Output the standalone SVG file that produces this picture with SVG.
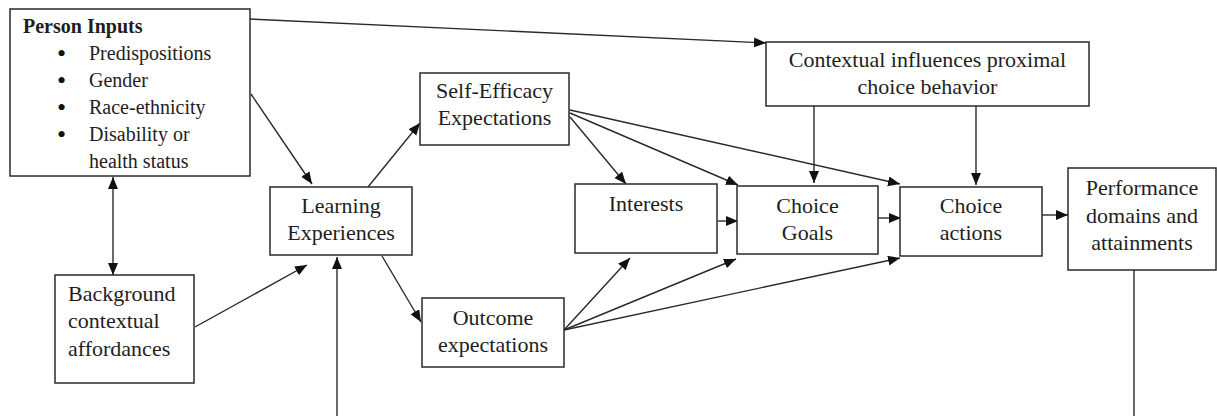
<svg xmlns="http://www.w3.org/2000/svg" width="1217" height="416" viewBox="0 0 1217 416">
<style>
  .box { fill: #ffffff; stroke: #2a2a2a; stroke-width: 1.5; }
  .t { font-family: "Liberation Serif", "Times New Roman", serif; font-size: 22px; fill: #1e1e1e; text-anchor: middle; }
  .ts { font-family: "Liberation Serif", "Times New Roman", serif; font-size: 22px; fill: #1e1e1e; }
  .tl { font-family: "Liberation Serif", "Times New Roman", serif; font-size: 20px; fill: #1e1e1e; }
  .bl { font-size: 26px; fill: #111; }
  .c { fill: none; stroke: #2a2a2a; stroke-width: 1.4; }
</style>
<defs>
  <marker id="ah" markerUnits="userSpaceOnUse" markerWidth="14" markerHeight="12" refX="12" refY="5" orient="auto">
    <path d="M0,0 L12,5 L0,10 Z" fill="#111"/>
  </marker>
  <marker id="as" markerUnits="userSpaceOnUse" markerWidth="14" markerHeight="12" refX="0" refY="5" orient="auto">
    <path d="M12,0 L0,5 L12,10 Z" fill="#111"/>
  </marker>
</defs>
<rect width="1217" height="416" fill="#ffffff"/>

<g id="connectors">
  <line class="c" x1="250" y1="19" x2="766" y2="43" marker-end="url(#ah)"/>
  <line class="c" x1="251" y1="94" x2="312" y2="184" marker-end="url(#ah)"/>
  <line class="c" x1="113" y1="177" x2="113" y2="275" marker-start="url(#as)" marker-end="url(#ah)"/>
  <line class="c" x1="195" y1="327" x2="307" y2="265" marker-end="url(#ah)"/>
  <line class="c" x1="368" y1="187" x2="420" y2="123" marker-end="url(#ah)"/>
  <line class="c" x1="382" y1="256" x2="421" y2="322" marker-end="url(#ah)"/>
  <line class="c" x1="570" y1="117" x2="626" y2="184" marker-end="url(#ah)"/>
  <line class="c" x1="570" y1="113" x2="738" y2="185" marker-end="url(#ah)"/>
  <line class="c" x1="570" y1="110" x2="900" y2="184" marker-end="url(#ah)"/>
  <line class="c" x1="564" y1="330" x2="630" y2="258" marker-end="url(#ah)"/>
  <line class="c" x1="564" y1="330" x2="736" y2="259" marker-end="url(#ah)"/>
  <line class="c" x1="564" y1="330" x2="900" y2="258" marker-end="url(#ah)"/>
  <line class="c" x1="718" y1="221" x2="738" y2="221" marker-end="url(#ah)"/>
  <line class="c" x1="878" y1="218" x2="901" y2="218" marker-end="url(#ah)"/>
  <line class="c" x1="1042" y1="215" x2="1068" y2="215" marker-end="url(#ah)"/>
  <line class="c" x1="814" y1="106" x2="814" y2="183" marker-end="url(#ah)"/>
  <line class="c" x1="976" y1="106" x2="976" y2="185" marker-end="url(#ah)"/>
  <path class="c" d="M1134,270 V422 H337 V257" marker-end="url(#ah)"/>
</g>

<g id="person-inputs">
  <rect class="box" x="10" y="9" width="240" height="167"/>
  <text class="tl" x="23" y="33" font-weight="bold">Person Inputs</text>
  <text class="tl" y="60"><tspan class="bl" x="57" dy="2">•</tspan><tspan x="89" dy="-2">Predispositions</tspan></text>
  <text class="tl" y="87"><tspan class="bl" x="57" dy="2">•</tspan><tspan x="89" dy="-2">Gender</tspan></text>
  <text class="tl" y="114"><tspan class="bl" x="57" dy="2">•</tspan><tspan x="89" dy="-2">Race-ethnicity</tspan></text>
  <text class="tl" y="141"><tspan class="bl" x="57" dy="2">•</tspan><tspan x="89" dy="-2">Disability or</tspan><tspan x="89" dy="27">health status</tspan></text>
</g>

<g id="background">
  <rect class="box" x="55" y="275" width="139" height="108"/>
  <text class="ts" x="68" y="301">Background</text>
  <text class="ts" x="68" y="328">contextual</text>
  <text class="ts" x="68" y="356">affordances</text>
</g>

<g id="learning">
  <rect class="box" x="270" y="187" width="142" height="68"/>
  <text class="t" x="341" y="213">Learning</text>
  <text class="t" x="341" y="240">Experiences</text>
</g>

<g id="self-efficacy">
  <rect class="box" x="420" y="73" width="149" height="72"/>
  <text class="t" x="494.5" y="98">Self-Efficacy</text>
  <text class="t" x="494.5" y="125">Expectations</text>
</g>

<g id="outcome">
  <rect class="box" x="422" y="298" width="142" height="69"/>
  <text class="t" x="493" y="325">Outcome</text>
  <text class="t" x="493" y="352">expectations</text>
</g>

<g id="interests">
  <rect class="box" x="575" y="184" width="142" height="69"/>
  <text class="t" x="646" y="211">Interests</text>
</g>

<g id="choice-goals">
  <rect class="box" x="737" y="186" width="141" height="68"/>
  <text class="t" x="807.5" y="213">Choice</text>
  <text class="t" x="807.5" y="240">Goals</text>
</g>

<g id="choice-actions">
  <rect class="box" x="900" y="187" width="142" height="69"/>
  <text class="t" x="971" y="213">Choice</text>
  <text class="t" x="971" y="240">actions</text>
</g>

<g id="contextual">
  <rect class="box" x="766" y="42" width="323" height="64"/>
  <text class="t" x="927.5" y="67">Contextual influences proximal</text>
  <text class="t" x="927.5" y="94">choice behavior</text>
</g>

<g id="performance">
  <rect class="box" x="1068" y="168" width="148" height="102"/>
  <text class="t" x="1142" y="195">Performance</text>
  <text class="t" x="1142" y="223">domains and</text>
  <text class="t" x="1142" y="250">attainments</text>
</g>
</svg>
